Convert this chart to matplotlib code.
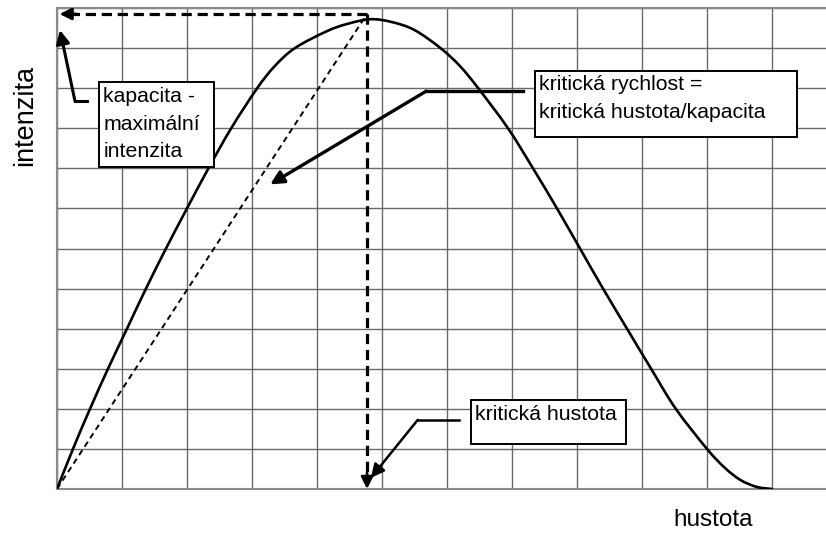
import matplotlib
matplotlib.use("Agg")
import matplotlib.pyplot as plt
from matplotlib.patches import Rectangle, PathPatch
from matplotlib.path import Path

plt.rcParams['font.family'] = ['Liberation Sans', 'DejaVu Sans']

# curve: hustota (density) vs intenzita (flow), in grid units
hustota = [0.0, 0.246, 0.508, 0.785, 1.077, 1.369, 1.677, 2.0, 2.33, 2.68, 3.08,
           3.35, 3.66, 4.15, 4.46, 4.82, 5.15, 5.5, 5.9, 6.2, 6.48, 6.938, 7.323,
           7.692, 8.046, 8.4, 8.769, 9.14, 9.52, 10.0, 10.28, 10.52, 10.77, 11.0]
intenzita = [0.0, 1.0, 2.0, 3.0, 4.0, 5.0, 6.0, 7.0, 8.0, 9.0, 10.0,
             10.55, 11.0, 11.42, 11.6, 11.72, 11.65, 11.45, 11.0, 10.55, 10.0, 9.0,
             8.0, 7.0, 6.0, 5.0, 4.0, 3.0, 2.0, 1.0, 0.52, 0.22, 0.05, 0.0]
kapacita = 11.85
kriticka_hustota = 4.77

fig = plt.figure(figsize=(8.26, 5.33), dpi=100)
ax = fig.add_axes([57/826, 44/533, 12*65/826, 481/533])
ax.set_xlim(0, 12)
ax.set_ylim(0, 12)
ax.set_xticks(range(0, 13))
ax.set_yticks(range(0, 13))
ax.tick_params(length=0, labelbottom=False, labelleft=False)
ax.grid(True, color='#6a6a6a', linewidth=1.0)
for s in ax.spines.values():
    s.set_color('#8a8a8a')
    s.set_linewidth(1.5)

# main curve, drawn as a smooth path through the read points
pts = list(zip(hustota, intenzita))
verts = [pts[0]]
codes = [Path.MOVETO]
n = len(pts)
for i in range(n - 1):
    p0 = pts[i - 1] if i > 0 else pts[i]
    p1 = pts[i]
    p2 = pts[i + 1]
    p3 = pts[i + 2] if i + 2 < n else pts[i + 1]
    c1 = (p1[0] + (p2[0] - p0[0]) / 6, p1[1] + (p2[1] - p0[1]) / 6)
    c2 = (p2[0] - (p3[0] - p1[0]) / 6, p2[1] - (p3[1] - p1[1]) / 6)
    verts += [c1, c2, p2]
    codes += [Path.CURVE4] * 3
ax.add_patch(PathPatch(Path(verts, codes), facecolor='none', edgecolor='black',
                       lw=1.9, capstyle='round', zorder=5))

# thin dashed diagonal (critical speed)
ax.plot([0, kriticka_hustota], [0, kapacita], color='black', lw=1.4,
        linestyle=(0, (3, 2.2)), zorder=4)

# thick dashed lines to axes
ax.plot([kriticka_hustota, 0.25], [kapacita, kapacita], color='black', lw=2.3,
        linestyle=(0, (3.2, 1.8)), zorder=4)
ax.plot([kriticka_hustota, kriticka_hustota], [kapacita, 0.35], color='black', lw=2.3,
        linestyle=(0, (3.2, 1.8)), zorder=4)
ax.annotate('', xy=(0.04, kapacita), xytext=(0.3, kapacita),
            arrowprops=dict(arrowstyle='-|>,head_length=0.7,head_width=0.35',
                            color='black', lw=2, shrinkA=0, shrinkB=0), zorder=6)
ax.annotate('', xy=(kriticka_hustota, 0.0), xytext=(kriticka_hustota, 0.4),
            arrowprops=dict(arrowstyle='-|>,head_length=0.7,head_width=0.35',
                            color='black', lw=2, shrinkA=0, shrinkB=0), zorder=6)

def connector(pts_, tip, lw):
    xs = [p[0] for p in pts_]
    ys = [p[1] for p in pts_]
    ax.plot(xs, ys, color='black', lw=lw, solid_joinstyle='miter', zorder=6)
    ax.annotate('', xy=tip, xytext=pts_[-1],
                arrowprops=dict(arrowstyle='-|>,head_length=0.8,head_width=0.4',
                                color='black', lw=lw, shrinkA=0, shrinkB=0), zorder=6)

def box(x0, y0, x1, y1, lines, tx, baselines):
    ax.add_patch(Rectangle((x0, y0), x1 - x0, y1 - y0, facecolor='white',
                           edgecolor='black', lw=1.4, zorder=7))
    for line, by in zip(lines, baselines):
        ax.text(tx, by, line, fontsize=15.3, ha='left', va='baseline',
                zorder=8, color='black')

# kapacita box
connector([(0.46, 9.675), (0.277, 9.675)], (0.046, 11.45), 2.2)
box(0.646, 8.025, 2.415, 10.15, ['kapacita -', 'maximální', 'intenzita'], 0.71,
    [9.65, 8.95, 8.275])

# kriticka rychlost box
connector([(7.17, 9.925), (5.68, 9.925)], (3.28, 7.6), 2.4)
box(7.354, 8.775, 11.385, 10.425, ['kritická rychlost =', 'kritická hustota/kapacita'],
    7.415, [9.95, 9.25])

# kriticka hustota box
connector([(6.185, 1.725), (5.55, 1.725)], (4.83, 0.28), 1.8)
box(6.37, 1.125, 8.754, 2.225, ['kritická hustota'], 6.43, [1.725])

fig.text(25/826, 1 - 115/533, 'intenzita', rotation=90, ha='center', va='center', fontsize=19.5)
fig.text(713/826, 1 - 520/533, 'hustota', ha='center', va='center', fontsize=17.5)

fig.savefig('out.png', dpi=100)
